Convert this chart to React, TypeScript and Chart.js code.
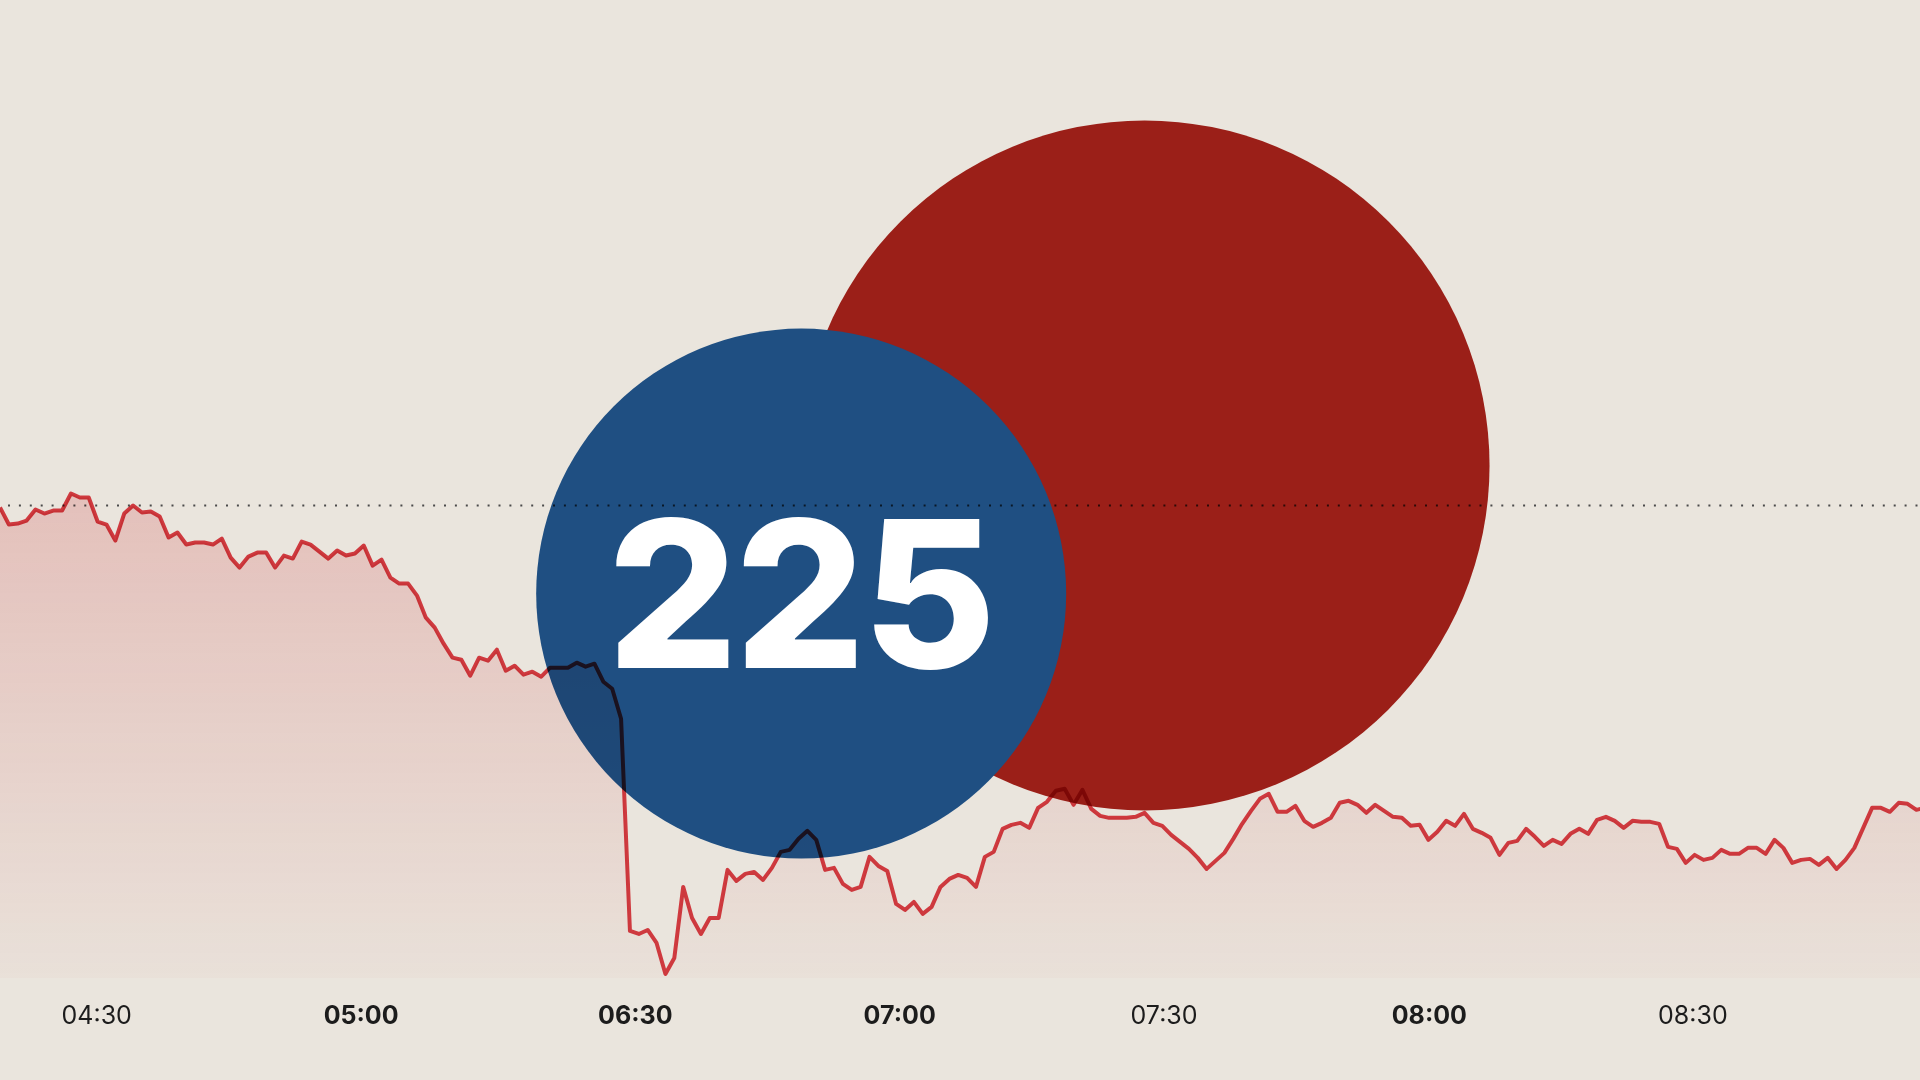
import React, { useEffect, useRef } from 'react';
import { Chart, registerables } from 'chart.js';

Chart.register(...registerables);

// ---- Data -------------------------------------------------------------
// One reading per minute (index = minutes since the start of the window)
const SERIES_VALUES: number[] = [
  47.0, 45.3, 45.4, 45.7, 46.8, 46.4, 46.7, 46.7, 48.4, 48.0,
  48.0, 45.6, 45.3, 43.7, 46.4, 47.2, 46.5, 46.6, 46.1, 44.0,
  44.5, 43.3, 43.5, 43.5, 43.3, 43.9, 42.0, 41.0, 42.1, 42.5,
  42.5, 41.0, 42.2, 41.9, 43.6, 43.3, 42.6, 41.9, 42.7, 42.2,
  42.4, 43.2, 41.2, 41.8, 40.0, 39.4, 39.4, 38.2, 36.0, 35.0,
  33.4, 32.0, 31.8, 30.2, 32.0, 31.7, 32.8, 30.7, 31.2, 30.3,
  30.6, 30.1, 31.0, 31.0, 31.0, 31.5, 31.1, 31.4, 29.6, 28.9,
  25.9, 4.7, 4.4, 4.8, 3.5, 0.4, 2.0, 9.1, 6.0, 4.4,
  6.0, 6.0, 10.8, 9.7, 10.4, 10.6, 9.8, 11.0, 12.6, 12.8,
  13.9, 14.7, 13.8, 10.8, 11.0, 9.4, 8.8, 9.1, 12.1, 11.2,
  10.7, 7.4, 6.8, 7.6, 6.4, 7.1, 9.1, 9.9, 10.3, 10.0,
  9.1, 12.1, 12.6, 14.9, 15.3, 15.5, 15.0, 17.0, 17.6, 18.7,
  18.9, 17.3, 18.8, 16.9, 16.2, 16.0, 16.0, 16.0, 16.1, 16.5,
  15.5, 15.2, 14.3, 13.6, 12.9, 12.0, 10.9, 11.7, 12.5, 13.9,
  15.4, 16.7, 17.9, 18.4, 16.6, 16.6, 17.2, 15.7, 15.1, 15.5,
  16.0, 17.5, 17.7, 17.3, 16.5, 17.3, 16.7, 16.1, 16.0, 15.2,
  15.3, 13.8, 14.6, 15.7, 15.2, 16.4, 14.9, 14.5, 14.0, 12.3,
  13.5, 13.7, 14.9, 14.1, 13.2, 13.8, 13.4, 14.4, 14.9, 14.4,
  15.8, 16.1, 15.7, 15.0, 15.7, 15.6, 15.6, 15.4, 13.1, 12.9,
  11.5, 12.3, 11.8, 12.0, 12.8, 12.4, 12.4, 13.0, 13.0, 12.4,
  13.8, 13.0, 11.5, 11.8, 11.9, 11.3, 12.0, 10.9, 11.8, 13.0,
  15.0, 17.0, 17.0, 16.6, 17.5, 17.4, 16.8, 17.0,
];

const REFERENCE_LEVEL = 47.2;

const X_MIN = 0;
const X_MAX = 216.4;
const Y_MIN = 0;
const Y_MAX = 97.7;

const TICK_POSITIONS: number[] = [10.9, 40.7, 71.6, 101.4, 131.2, 161.1, 190.8];
const TICK_LABELS: string[] = ['04:30', '05:00', '06:30', '07:00', '07:30', '08:00', '08:30'];
const TICK_BOLD: boolean[] = [false, true, true, true, false, true, false];

// Bubbles: x, y in data units, r = bubble radius
const RED_BUBBLE = [{ x: 129.0, y: 51.2, r: 345 }];
const BLUE_BUBBLE = [{ x: 90.3, y: 38.4, r: 265 }];
const BADGE_TEXT = '225';

// ---- Styling ----------------------------------------------------------
const BG = '#EAE5DD';
const LINE_RED = '#CF3A3F';
const BUBBLE_RED_COLOR = '#9B1F18';
const BUBBLE_BLUE_COLOR = '#1F4F82';

const blendPlugin = {
  id: 'blendAndBadge',
  beforeDatasetsDraw(chart: any) {
    chart.ctx.globalCompositeOperation = 'source-over';
  },
  beforeDatasetDraw(chart: any, args: any) {
    const ds = chart.data.datasets[args.index];
    chart.ctx.globalCompositeOperation = ds.type === 'bubble' ? 'source-over' : 'multiply';
  },
  afterDatasetDraw(chart: any) {
    chart.ctx.globalCompositeOperation = 'multiply';
  },
  afterDatasetsDraw(chart: any) {
    const ctx = chart.ctx as CanvasRenderingContext2D;
    ctx.globalCompositeOperation = 'source-over';
    const idx = chart.data.datasets.findIndex((d: any) => d.label === 'blue');
    const el = chart.getDatasetMeta(idx).data[0];
    if (!el) return;
    ctx.save();
    ctx.fillStyle = '#FFFFFF';
    ctx.font = '800 205px Inter, "Noto Sans", sans-serif';
    (ctx as any).letterSpacing = '-3px';
    ctx.textAlign = 'center';
    ctx.textBaseline = 'alphabetic';
    ctx.fillText(BADGE_TEXT, el.x - 1, el.y + 74);
    ctx.restore();
  },
};

export default function App() {
  const canvasRef = useRef<HTMLCanvasElement | null>(null);

  useEffect(() => {
    document.body.style.margin = '0';
    document.body.style.background = BG;
    const canvas = canvasRef.current;
    if (!canvas) return;

    const lineData = SERIES_VALUES.map((v, i) => ({ x: i, y: v }));
    const refData = [
      { x: X_MIN, y: REFERENCE_LEVEL },
      { x: X_MAX, y: REFERENCE_LEVEL },
    ];

    const chart = new Chart(canvas, {
      type: 'line',
      data: {
        datasets: [
          {
            type: 'line',
            label: 'series',
            data: lineData,
            borderColor: LINE_RED,
            borderWidth: 4,
            borderJoinStyle: 'round',
            pointRadius: 0,
            pointHoverRadius: 0,
            tension: 0,
            fill: 'start',
            backgroundColor: (ctx: any) => {
              const c = ctx.chart;
              const area = c.chartArea;
              if (!area) return 'rgba(207,58,63,0.15)';
              const yTop = c.scales.y.getPixelForValue(50);
              const g = c.ctx.createLinearGradient(0, yTop, 0, area.bottom);
              g.addColorStop(0, 'rgba(207,58,63,0.22)');
              g.addColorStop(1, 'rgba(207,58,63,0.025)');
              return g;
            },
            order: 0,
          } as any,
          {
            type: 'line',
            label: 'reference',
            data: refData,
            borderColor: '#4a4a4a',
            borderWidth: 2,
            borderDash: [2, 8.9],
            borderDashOffset: 2.9,
            borderCapStyle: 'butt',
            pointRadius: 0,
            pointHoverRadius: 0,
            fill: false,
            order: 1,
          } as any,
          {
            type: 'bubble',
            label: 'blue',
            data: BLUE_BUBBLE,
            backgroundColor: BUBBLE_BLUE_COLOR,
            borderWidth: 0,
            hoverRadius: 0,
            order: 2,
          } as any,
          {
            type: 'bubble',
            label: 'red',
            data: RED_BUBBLE,
            backgroundColor: BUBBLE_RED_COLOR,
            borderWidth: 0,
            hoverRadius: 0,
            order: 3,
          } as any,
        ],
      },
      options: {
        animation: false,
        responsive: true,
        maintainAspectRatio: false,
        devicePixelRatio: 1,
        events: [],
        layout: { autoPadding: false, padding: { left: 0, right: 0, top: 0, bottom: 26 } },
        plugins: {
          legend: { display: false },
          tooltip: { enabled: false },
          title: { display: false },
        },
        scales: {
          x: {
            type: 'linear',
            min: X_MIN,
            max: X_MAX,
            grid: { display: false, drawTicks: false },
            border: { display: false },
            afterBuildTicks: (scale: any) => {
              scale.ticks = TICK_POSITIONS.map((v) => ({ value: v }));
            },
            ticks: {
              autoSkip: false,
              maxRotation: 0,
              padding: 23,
              color: '#1c1c1c',
              font: (ctx: any) => ({
                family: 'Inter, "Liberation Sans", sans-serif',
                size: 25,
                weight: TICK_BOLD[ctx.index] ? '700' : '400',
              }),
              callback: (_v: any, i: number) => TICK_LABELS[i],
            },
          },
          y: {
            type: 'linear',
            display: false,
            min: Y_MIN,
            max: Y_MAX,
          },
        },
      } as any,
      plugins: [blendPlugin],
    });

    return () => chart.destroy();
  }, []);

  return (
    <div
      style={{
        position: 'fixed',
        left: 0,
        top: 0,
        width: 1920,
        height: 1080,
        background: BG,
      }}
    >
      <canvas ref={canvasRef} />
    </div>
  );
}
